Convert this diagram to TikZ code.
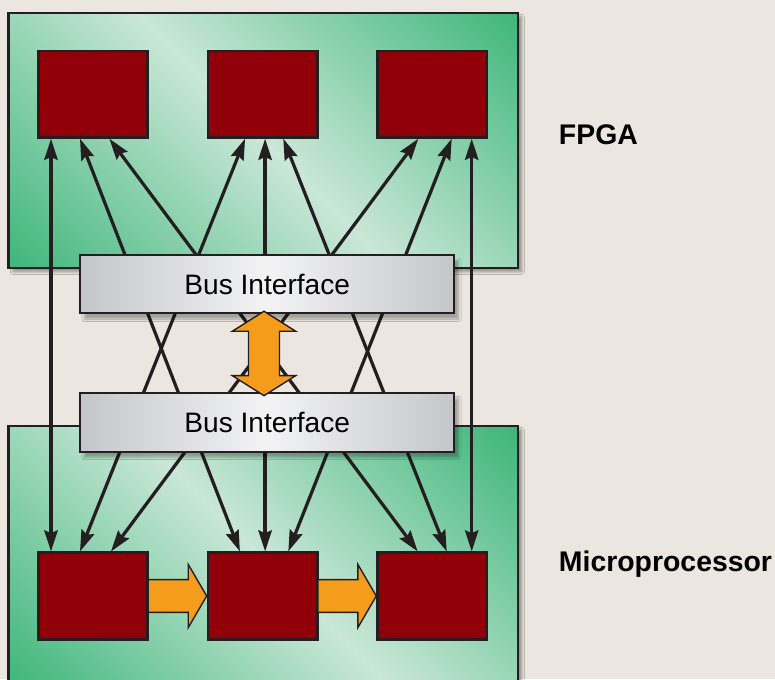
\documentclass[tikz,border=0pt]{standalone}
\usepackage{fontspec}
\setsansfont{Liberation Sans}
\usetikzlibrary{positioning, arrows.meta, shadows.blur}
\definecolor{paper}{HTML}{EBE6DF}
\definecolor{boardgreen}{HTML}{3DB67A}
\definecolor{boardlight}{HTML}{CAE7D7}
\definecolor{unitred}{HTML}{910008}
\definecolor{ink}{HTML}{231F20}
\definecolor{busgray}{HTML}{C5C6C9}
\definecolor{buslight}{HTML}{F3F3F4}
\definecolor{flow}{HTML}{F59C1D}

\begin{document}
\begin{tikzpicture}[font=\sffamily\fontsize{20}{24}\selectfont]
\tikzstyle{board}=[draw=ink, line width=1.6pt, inner sep=0pt, fill=boardgreen, path picture={\shade[transform canvas={rotate around={45:(path picture bounding box.center)}}, left color=boardgreen, right color=boardgreen, middle color=boardlight] ([shift={(-6.8,-6.8)}]path picture bounding box.center) rectangle ([shift={(6.8,6.8)}]path picture bounding box.center);}, blur shadow={shadow xshift=3pt, shadow yshift=-3pt, shadow opacity=35}]
\tikzstyle{unit}=[draw=ink, fill=unitred, line width=1.9pt, minimum width=2.735cm, minimum height=2.16cm]
\tikzstyle{bus}=[draw=ink, line width=1.5pt, left color=busgray, right color=busgray, middle color=buslight, minimum width=9.36cm, minimum height=1.46cm, blur shadow={shadow xshift=3pt, shadow yshift=-4pt, shadow opacity=30}]
\tikzstyle{link}=[draw=ink, line width=2.3pt, >={Stealth[length=15pt, width=9.5pt, inset=2pt]}, <->]
\tikzstyle{blockarrow}=[fill=flow, draw=ink, line width=1pt, line join=miter]
\tikzstyle{tag}=[anchor=base west, font=\sffamily\bfseries\fontsize{20.2}{24}\selectfont]
\fill[paper] (0,0) rectangle (19.375,16.975);
\useasboundingbox (0,0) rectangle (19.375,16.975);
% boards
\node[board, minimum width=12.73cm, minimum height=6.375cm] (fpga) at (6.5775,13.47) {};
\node[board, minimum width=12.73cm, minimum height=6.63cm] (mcu) at (6.5775,3.0175) {};
\node[tag] (fpgatag) at (13.85,13.35) {FPGA};
\node[tag] (mcutag) at (13.85,2.68) {Microprocessor};
% processing units
\node[unit] (t1) at (2.325,14.62) {}; \node[unit] (t2) at (6.5675,14.62) {}; \node[unit] (t3) at (10.8075,14.62) {};
\node[unit] (b1) at (2.325,2.075) {}; \node[unit] (b2) at (6.5675,2.075) {}; \node[unit] (b3) at (10.8075,2.075) {};
% every unit of the FPGA talks to every unit of the processor
\draw[link] ([xshift=-1.05cm]t1.south) -- ([xshift=-1.05cm]b1.north);
\draw[link] ([xshift=-0.325cm]t1.south) -- ([xshift=-0.57cm]b2.north);
\draw[link] ([xshift=0.41cm]t1.south) -- ([xshift=-0.365cm]b3.north);
\draw[link] ([xshift=-0.44cm]t2.south) -- ([xshift=-0.325cm]b1.north);
\draw[link] ([xshift=0.06cm]t2.south) -- ([xshift=0.06cm]b2.north);
\draw[link] ([xshift=0.515cm]t2.south) -- ([xshift=0.36cm]b3.north);
\draw[link] ([xshift=-0.35cm]t3.south) -- ([xshift=0.45cm]b1.north);
\draw[link] ([xshift=0.485cm]t3.south) -- ([xshift=0.64cm]b2.north);
\draw[link] ([xshift=0.985cm]t3.south) -- ([xshift=0.985cm]b3.north);
% bus interfaces
\node[bus] (ub) at (6.68,9.87) {Bus Interface};
\node[bus] (lb) at (6.68,6.4125) {Bus Interface};
% wide arrows
\coordinate (dtop) at ([xshift=-0.08cm, yshift=0.08cm]ub.south);
\coordinate (dbot) at ([xshift=-0.08cm, yshift=-0.085cm]lb.north);
\draw[blockarrow] (dtop) -- ++(0.7925,-0.5) -- ++(-0.405,0) |- ([shift={(0.7925,0.5)}]dbot) -- (dbot) -- ([shift={(-0.7925,0.5)}]dbot) -| ([shift={(-0.3875,-0.5)}]dtop) -- ++(-0.405,0) -- cycle;
\draw[blockarrow] ([yshift=0.41cm]b1.east) -- ([shift={(-0.46,0.41)}]b2.west) -- ([shift={(-0.46,0.79)}]b2.west) -- (b2.west) -- ([shift={(-0.46,-0.79)}]b2.west) -- ([shift={(-0.46,-0.41)}]b2.west) -- ([yshift=-0.41cm]b1.east);
\draw[blockarrow] ([yshift=0.41cm]b2.east) -- ([shift={(-0.46,0.41)}]b3.west) -- ([shift={(-0.46,0.79)}]b3.west) -- (b3.west) -- ([shift={(-0.46,-0.79)}]b3.west) -- ([shift={(-0.46,-0.41)}]b3.west) -- ([yshift=-0.41cm]b2.east);
\end{tikzpicture}
\end{document}
